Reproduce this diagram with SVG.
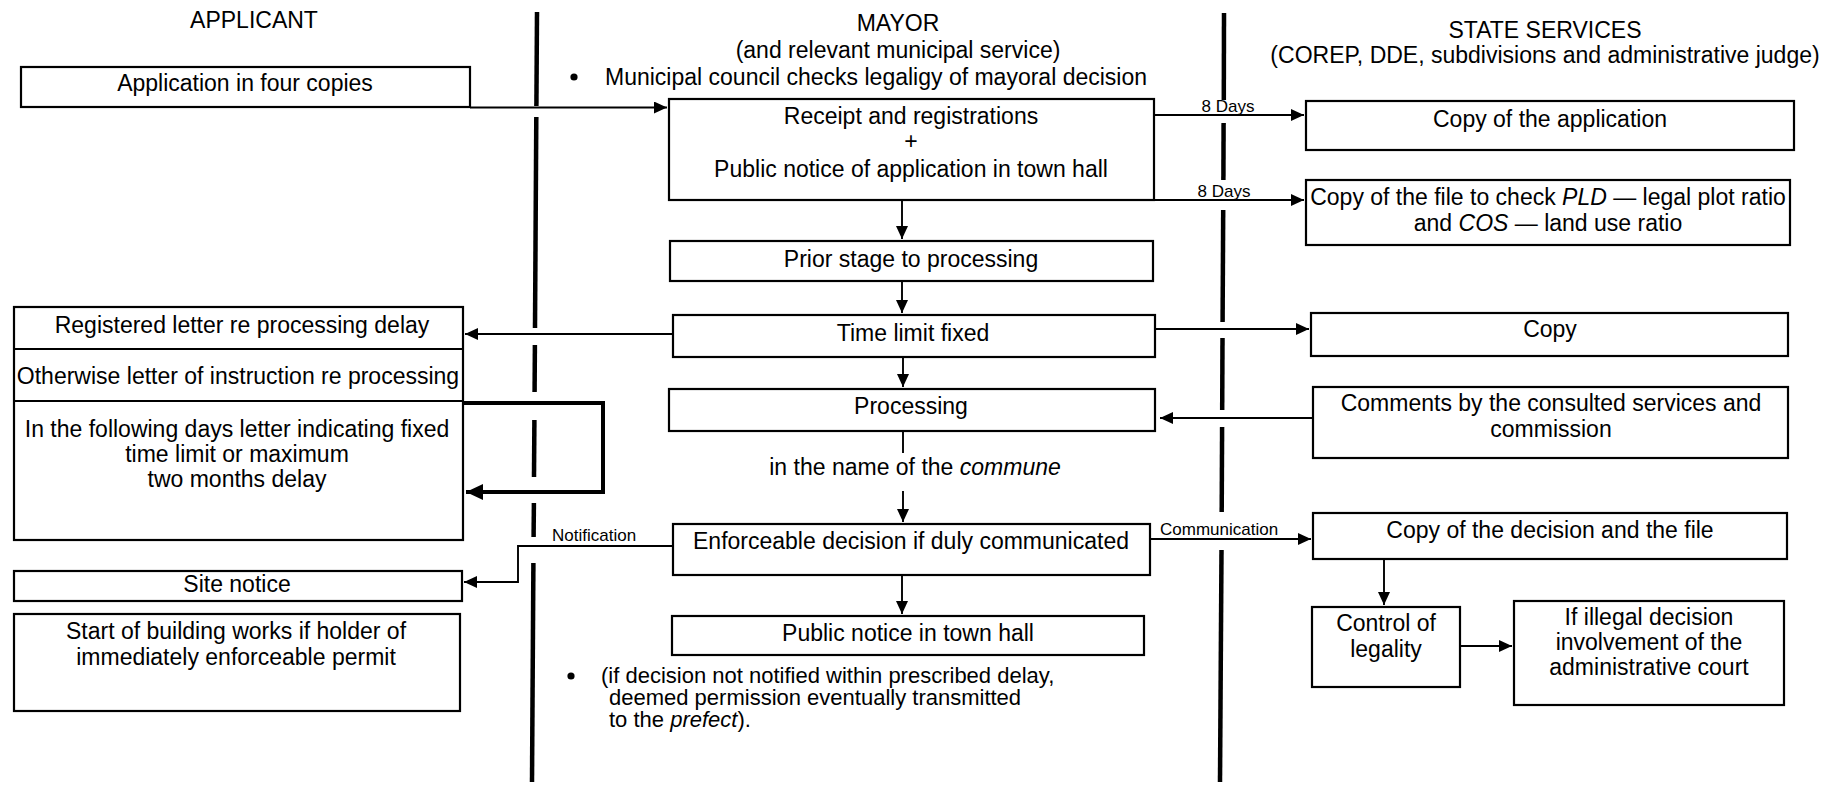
<svg xmlns="http://www.w3.org/2000/svg" width="1836" height="790" viewBox="0 0 1836 790">
<style>
text{font-family:"Liberation Sans",Arial,Helvetica,sans-serif;font-size:23px;fill:#000}
.c{text-anchor:middle}
.s{font-size:17px}
.n{font-size:22px}
.box{fill:#fff;stroke:#000;stroke-width:2.2}
.ln{fill:none;stroke:#000;stroke-width:1.9}
.thick{fill:none;stroke:#000;stroke-width:4}
.lane{stroke:#000;stroke-width:4.5;stroke-linecap:butt}
</style>
<defs>
<marker id="ah" markerUnits="userSpaceOnUse" markerWidth="13" markerHeight="12" refX="13" refY="6" orient="auto">
<path d="M0,0 L13,6 L0,12 z" fill="#000"/>
</marker>
<marker id="ahb" markerUnits="userSpaceOnUse" markerWidth="17" markerHeight="16" refX="17" refY="8" orient="auto">
<path d="M0,0 L17,8 L0,16 z" fill="#000"/>
</marker>
</defs>
<rect width="1836" height="790" fill="#fff"/>

<g id="lanes">
<line class="lane" x1="537" y1="12" x2="536.4" y2="106"/>
<line class="lane" x1="536.3" y1="117" x2="535" y2="328"/>
<line class="lane" x1="534.9" y1="345" x2="534.6" y2="392"/>
<line class="lane" x1="534.4" y1="420" x2="534" y2="477"/>
<line class="lane" x1="533.9" y1="503" x2="533.6" y2="537"/>
<line class="lane" x1="533.4" y1="563" x2="532" y2="782"/>
<line class="lane" x1="1224" y1="13" x2="1223.8" y2="100"/>
<line class="lane" x1="1223.6" y1="123" x2="1223.4" y2="180"/>
<line class="lane" x1="1223.2" y1="210" x2="1222.6" y2="322"/>
<line class="lane" x1="1222.5" y1="338" x2="1222.2" y2="410"/>
<line class="lane" x1="1222.1" y1="427" x2="1221.7" y2="512"/>
<line class="lane" x1="1221.5" y1="550" x2="1220" y2="782"/>
</g>

<g id="headers">
<text class="c" x="254" y="28">APPLICANT</text>
<text class="c" x="898" y="31">MAYOR</text>
<text class="c" x="898" y="58">(and relevant municipal service)</text>
<circle cx="574" cy="77" r="3.6" fill="#000"/>
<text x="605" y="85">Municipal council checks legaligy of mayoral decision</text>
<text class="c" x="1545" y="38">STATE SERVICES</text>
<text class="c" x="1545" y="63">(COREP, DDE, subdivisions and administrative judge)</text>
</g>

<g id="connectors">
<path class="ln" d="M470,107.5 H667" marker-end="url(#ah)"/>
<path class="ln" d="M1154,115 H1304" marker-end="url(#ah)"/>
<text class="s c" x="1228" y="112">8 Days</text>
<path class="ln" d="M1154,200 H1304" marker-end="url(#ah)"/>
<text class="s c" x="1224" y="197">8 Days</text>
<path class="ln" d="M902,200 V239" marker-end="url(#ah)"/>
<path class="ln" d="M902,281 V313" marker-end="url(#ah)"/>
<path class="ln" d="M673,334 H465" marker-end="url(#ah)"/>
<path class="ln" d="M1155,329 H1309" marker-end="url(#ah)"/>
<path class="ln" d="M903,357 V387" marker-end="url(#ah)"/>
<path class="ln" d="M1313,418 H1160" marker-end="url(#ah)"/>
<path class="ln" d="M903,431 V453"/>
<path class="ln" d="M903,491 V522" marker-end="url(#ah)"/>
<path class="thick" d="M463,403 H603 V492 H466" marker-end="url(#ahb)"/>
<path class="ln" d="M673,546 H518 V582 H464" marker-end="url(#ah)"/>
<text class="s" x="552" y="541">Notification</text>
<path class="ln" d="M1150,539 H1311" marker-end="url(#ah)"/>
<text class="s" x="1160" y="535">Communication</text>
<path class="ln" d="M902,575 V614" marker-end="url(#ah)"/>
<path class="ln" d="M1384,559 V605" marker-end="url(#ah)"/>
<path class="ln" d="M1460,646 H1512" marker-end="url(#ah)"/>
</g>

<g id="application">
<rect class="box" x="21" y="67" width="449" height="40"/>
<text class="c" x="245" y="91">Application in four copies</text>
</g>
<g id="receipt">
<rect class="box" x="669" y="99" width="485" height="101"/>
<text class="c" x="911" y="124">Receipt and registrations</text>
<text class="c" x="911" y="149">+</text>
<text class="c" x="911" y="177">Public notice of application in town hall</text>
</g>
<g id="copy-application">
<rect class="box" x="1306" y="101" width="488" height="49"/>
<text class="c" x="1550" y="127">Copy of the application</text>
</g>
<g id="copy-file">
<rect class="box" x="1306" y="180" width="484" height="65"/>
<text class="c" x="1548" y="205">Copy of the file to check <tspan font-style="italic">PLD</tspan> — legal plot ratio</text>
<text class="c" x="1548" y="231">and <tspan font-style="italic">COS</tspan> — land use ratio</text>
</g>
<g id="prior-stage">
<rect class="box" x="670" y="241" width="483" height="40"/>
<text class="c" x="911" y="267">Prior stage to processing</text>
</g>
<g id="time-limit">
<rect class="box" x="673" y="315" width="482" height="42"/>
<text class="c" x="913" y="341">Time limit fixed</text>
</g>
<g id="copy">
<rect class="box" x="1311" y="313" width="477" height="43"/>
<text class="c" x="1550" y="337">Copy</text>
</g>
<g id="processing">
<rect class="box" x="669" y="389" width="486" height="42"/>
<text class="c" x="911" y="414">Processing</text>
</g>
<g id="comments">
<rect class="box" x="1313" y="387" width="475" height="71"/>
<text class="c" x="1551" y="411">Comments by the consulted services and</text>
<text class="c" x="1551" y="437">commission</text>
</g>
<g id="letters">
<rect class="box" x="14" y="307" width="449" height="233"/>
<line class="ln" x1="14" y1="349" x2="463" y2="349" style="stroke-width:2.2"/>
<line class="ln" x1="14" y1="401" x2="463" y2="401" style="stroke-width:2.2"/>
<text class="c" x="242" y="333">Registered letter re processing delay</text>
<text class="c" x="238" y="384">Otherwise letter of instruction re processing</text>
<text class="c" x="237" y="437">In the following days letter indicating fixed</text>
<text class="c" x="237" y="462">time limit or maximum</text>
<text class="c" x="237" y="487">two months delay</text>
</g>
<g id="commune-label">
<text class="c" x="915" y="475">in the name of the <tspan font-style="italic">commune</tspan></text>
</g>
<g id="enforceable">
<rect class="box" x="673" y="524" width="477" height="51"/>
<text class="c" x="911" y="549">Enforceable decision if duly communicated</text>
</g>
<g id="copy-decision">
<rect class="box" x="1313" y="513" width="474" height="46"/>
<text class="c" x="1550" y="538">Copy of the decision and the file</text>
</g>
<g id="site-notice">
<rect class="box" x="14" y="571" width="448" height="30"/>
<text class="c" x="237" y="592">Site notice</text>
</g>
<g id="start-works">
<rect class="box" x="14" y="614" width="446" height="97"/>
<text class="c" x="236" y="639">Start of building works if holder of</text>
<text class="c" x="236" y="665">immediately enforceable permit</text>
</g>
<g id="public-notice">
<rect class="box" x="672" y="616" width="472" height="39"/>
<text class="c" x="908" y="641">Public notice in town hall</text>
</g>
<g id="control">
<rect class="box" x="1312" y="607" width="148" height="80"/>
<text class="c" x="1386" y="631">Control of</text>
<text class="c" x="1386" y="657">legality</text>
</g>
<g id="illegal">
<rect class="box" x="1514" y="601" width="270" height="104"/>
<text class="c" x="1649" y="625">If illegal decision</text>
<text class="c" x="1649" y="650">involvement of the</text>
<text class="c" x="1649" y="675">administrative court</text>
</g>
<g id="note">
<circle cx="571" cy="676" r="3.6" fill="#000"/>
<text class="n" x="601" y="683">(if decision not notified within prescribed delay,</text>
<text class="n" x="609" y="705">deemed permission eventually transmitted</text>
<text class="n" x="609" y="727">to the <tspan font-style="italic">prefect</tspan>).</text>
</g>
</svg>
